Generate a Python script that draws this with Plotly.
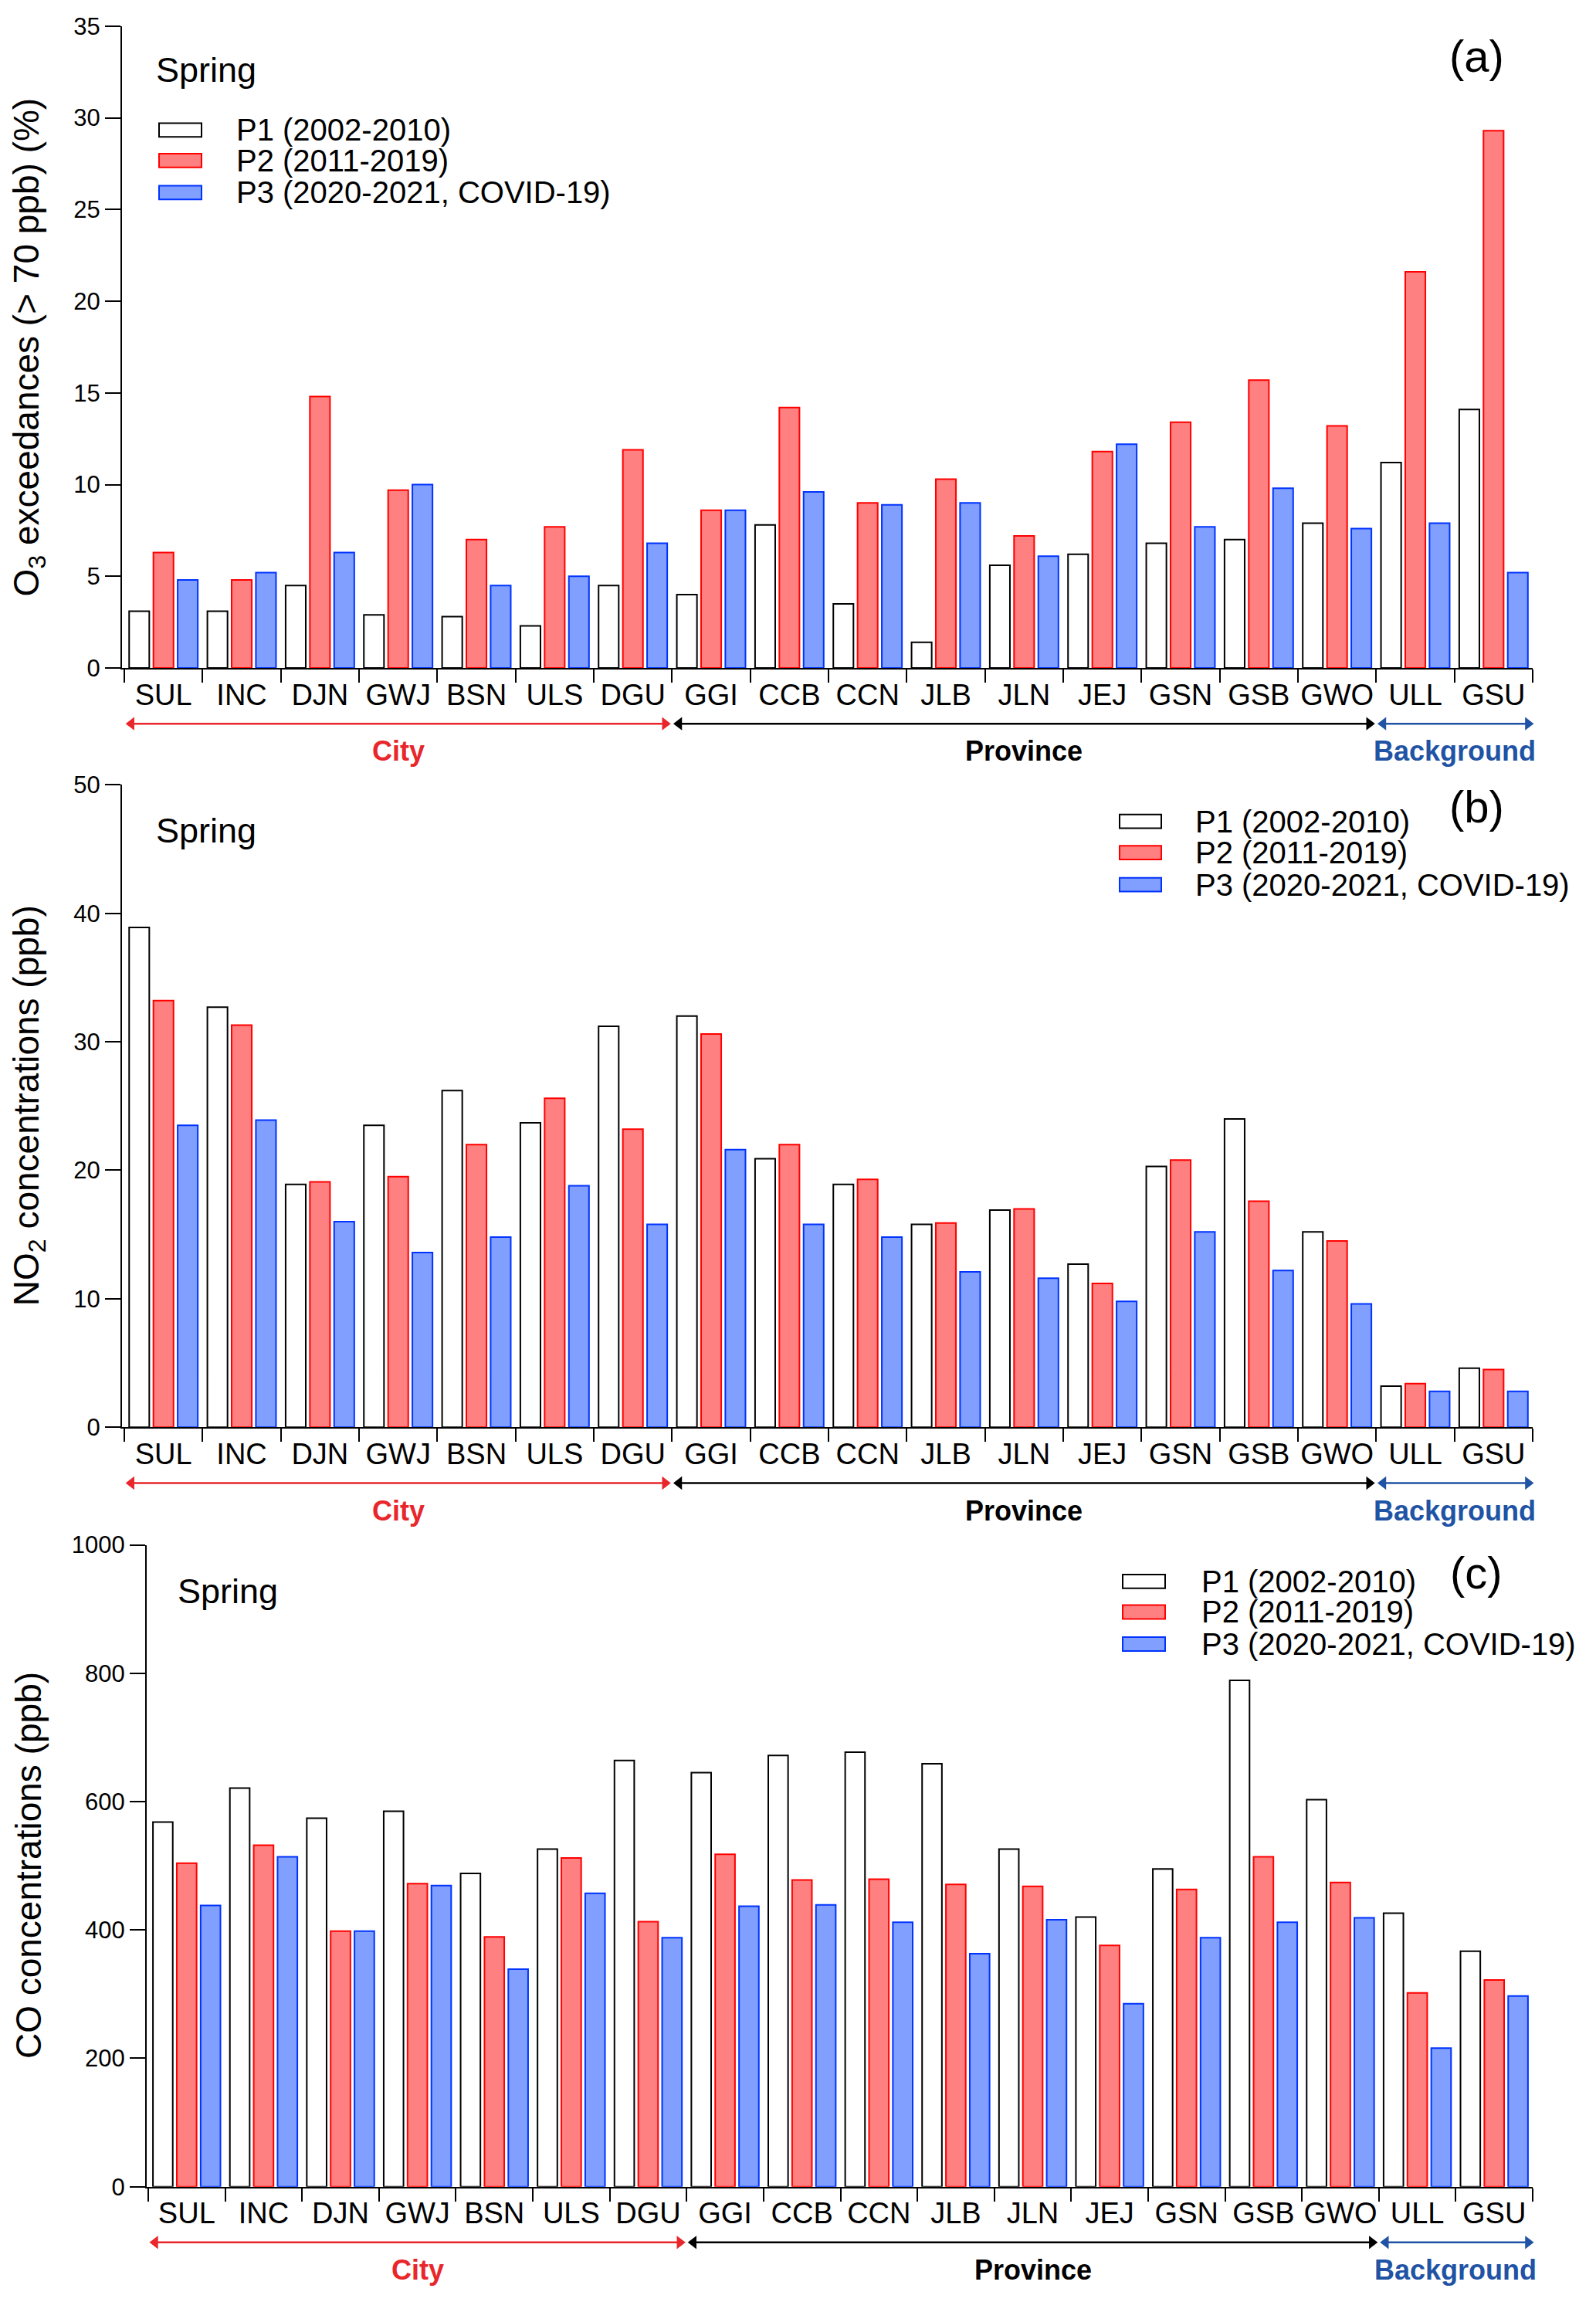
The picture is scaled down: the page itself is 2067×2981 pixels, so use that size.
import plotly.graph_objects as go

# ---------------- data ----------------
stations = ["SUL", "INC", "DJN", "GWJ", "BSN", "ULS", "DGU", "GGI", "CCB",
            "CCN", "JLB", "JLN", "JEJ", "GSN", "GSB", "GWO", "ULL", "GSU"]
periods = ["P1 (2002-2010)", "P2 (2011-2019)", "P3 (2020-2021, COVID-19)"]

o3_p1 = [3.1, 3.1, 4.5, 2.9, 2.8, 2.3, 4.5, 4.0, 7.8, 3.5, 1.4, 5.6, 6.2, 6.8, 7.0, 7.9, 11.2, 14.1]
o3_p2 = [6.3, 4.8, 14.8, 9.7, 7.0, 7.7, 11.9, 8.6, 14.2, 9.0, 10.3, 7.2, 11.8, 13.4, 15.7, 13.2, 21.6, 29.3]
o3_p3 = [4.8, 5.2, 6.3, 10.0, 4.5, 5.0, 6.8, 8.6, 9.6, 8.9, 9.0, 6.1, 12.2, 7.7, 9.8, 7.6, 7.9, 5.2]

no2_p1 = [38.9, 32.7, 18.9, 23.5, 26.2, 23.7, 31.2, 32.0, 20.9, 18.9, 15.8, 16.9, 12.7, 20.3, 24.0, 15.2, 3.2, 4.6]
no2_p2 = [33.2, 31.3, 19.1, 19.5, 22.0, 25.6, 23.2, 30.6, 22.0, 19.3, 15.9, 17.0, 11.2, 20.8, 17.6, 14.5, 3.4, 4.5]
no2_p3 = [23.5, 23.9, 16.0, 13.6, 14.8, 18.8, 15.8, 21.6, 15.8, 14.8, 12.1, 11.6, 9.8, 15.2, 12.2, 9.6, 2.8, 2.8]

co_p1 = [568, 621, 574, 585, 488, 526, 664, 645, 672, 677, 659, 526, 420, 495, 789, 603, 426, 367]
co_p2 = [504, 532, 398, 472, 389, 512, 413, 518, 478, 479, 471, 468, 376, 463, 514, 474, 302, 322]
co_p3 = [438, 514, 398, 469, 339, 457, 388, 437, 439, 412, 363, 416, 285, 388, 412, 419, 216, 297]

groups = ["City", "Province", "Background"]
group_bounds = [(-0.47, 6.47), (6.53, 15.47), (15.53, 17.5)]
group_centers = [3.0, 11.0, 16.5]

y_titles = ["O<sub>3</sub> exceedances (&gt; 70 ppb) (%)",
            "NO<sub>2</sub> concentrations (ppb)",
            "CO concentrations (ppb)"]
panel_tags = ["(a)", "(b)", "(c)"]
y_ranges = [[0, 35], [0, 50], [0, 1000]]
y_dticks = [5, 10, 200]

# ---------------- styles ----------------
W, H = 2067, 2981
FONT = "Liberation Sans, Arial, Helvetica, sans-serif"
fills = ["#ffffff", "#ff8080", "#809fff"]
edges = ["#000000", "#ff0000", "#0033ff"]
group_colors = ["#e8262b", "#000000", "#2153a5"]


def px(x):
    return x / W


def py(y):
    return 1 - y / H


# panel geometry in pixels
panels = [
    dict(top=9, bottom=850, left=150, xr=[-0.53, 17.5]),
    dict(top=1003, bottom=1845, left=150, xr=[-0.53, 17.5]),
    dict(top=1999, bottom=2840, left=182, xr=[-0.52, 17.5]),
]
right = 1977

legend_geo = [
    dict(sx0=198, sx1=253, tx=296, rows=[145, 185, 227], spring=(192, 66), tag=(1904, 48)),
    dict(sx0=1442, sx1=1496, tx=1538, rows=[1051, 1092, 1134], spring=(192, 1063), tag=(1904, 1032)),
    dict(sx0=1446, sx1=1501, tx=1546, rows=[2047, 2087, 2129], spring=(220, 2060), tag=(1904, 2035)),
]

fig = go.Figure()
data_sets = [(o3_p1, o3_p2, o3_p3), (no2_p1, no2_p2, no2_p3), (co_p1, co_p2, co_p3)]

for i, ds in enumerate(data_sets):
    xa = "x" if i == 0 else f"x{i+1}"
    ya = "y" if i == 0 else f"y{i+1}"
    for j, vals in enumerate(ds):
        fig.add_trace(go.Bar(
            x=stations, y=vals, name=periods[j], xaxis=xa, yaxis=ya,
            marker=dict(color=fills[j], line=dict(color=edges[j], width=2)),
            showlegend=False,
        ))

layout = dict(
    width=W, height=H,
    margin=dict(l=0, r=0, t=0, b=0),
    paper_bgcolor="white", plot_bgcolor="white",
    barmode="group", bargap=0.07, bargroupgap=0.17,
    font=dict(family=FONT, color="black"),
    showlegend=False,
)

annotations = []
shapes = []

for i, p in enumerate(panels):
    sfx = "" if i == 0 else str(i + 1)
    asfx = str(i + 4)
    layout["xaxis" + sfx] = dict(
        domain=[px(p["left"]), px(right)], range=p["xr"], type="category",
        anchor="y" + sfx, showline=True, linecolor="black", linewidth=2,
        ticks="outside", tickson="boundaries", ticklen=17, tickwidth=2, tickcolor="black",
        tickangle=0,
        tickfont=dict(size=38, family=FONT, color="black"), showgrid=False, zeroline=False,
    )
    layout["yaxis" + sfx] = dict(
        domain=[py(p["bottom"]), py(p["top"])], range=y_ranges[i], dtick=y_dticks[i],
        anchor="x" + sfx, showline=True, linecolor="black", linewidth=2,
        ticks="outside", ticklen=20, tickwidth=2, tickcolor="black",
        tickfont=dict(size=31, family=FONT, color="black"), showgrid=False, zeroline=False,
    )
    # hidden axes for the group arrows strip
    arrow_y = p["bottom"] + 73
    label_y = p["bottom"] + 109
    layout["xaxis" + asfx] = dict(domain=[px(p["left"]), px(right)], range=p["xr"],
                                  anchor="y" + asfx, visible=False)
    layout["yaxis" + asfx] = dict(domain=[py(arrow_y + 12), py(arrow_y - 12)], range=[-1, 1],
                                  anchor="x" + asfx, visible=False)
    for g in range(3):
        x0, x1 = group_bounds[g]
        fig.add_trace(go.Scatter(
            x=[x0 + 0.06, x1 - 0.06], y=[0, 0], mode="lines+markers",
            xaxis="x" + asfx, yaxis="y" + asfx, cliponaxis=False, hoverinfo="skip",
            line=dict(color=group_colors[g], width=2.5),
            marker=dict(symbol=["triangle-left", "triangle-right"], size=15,
                        color=group_colors[g], line=dict(width=0)),
            showlegend=False,
        ))
        annotations.append(dict(
            text="<b>" + groups[g] + "</b>", x=group_centers[g], y=py(label_y),
            xref="x" + sfx, yref="paper", showarrow=False, xanchor="center", yanchor="middle",
            font=dict(size=36, family=FONT, color=group_colors[g]),
        ))
    # y title
    annotations.append(dict(
        text=y_titles[i], x=px(29), y=py((p["top"] + p["bottom"]) / 2),
        xref="paper", yref="paper", textangle=-90, showarrow=False,
        xanchor="center", yanchor="middle", font=dict(size=46, family=FONT, color="black"),
    ))
    # legend
    lg = legend_geo[i]
    for j in range(3):
        cy = lg["rows"][j]
        shapes.append(dict(
            type="rect", xref="paper", yref="paper",
            x0=px(lg["sx0"]), x1=px(lg["sx1"]), y0=py(cy + 9), y1=py(cy - 9),
            fillcolor=fills[j], line=dict(color=edges[j], width=2),
        ))
        annotations.append(dict(
            text=periods[j], x=px(lg["tx"]), y=py(cy), xref="paper", yref="paper",
            showarrow=False, xanchor="left", yanchor="middle",
            font=dict(size=40, family=FONT, color="black"),
        ))
    annotations.append(dict(
        text="Spring", x=px(lg["spring"][0]), y=py(lg["spring"][1]), xref="paper", yref="paper",
        showarrow=False, xanchor="left", yanchor="middle", font=dict(size=45, family=FONT, color="black"),
    ))
    annotations.append(dict(
        text=panel_tags[i], x=px(lg["tag"][0]), y=py(lg["tag"][1]), xref="paper", yref="paper",
        showarrow=False, xanchor="center", yanchor="middle", font=dict(size=58, family=FONT, color="black"),
    ))

layout["annotations"] = annotations
layout["shapes"] = shapes
fig.update_layout(**layout)
fig.write_html("out.html")
